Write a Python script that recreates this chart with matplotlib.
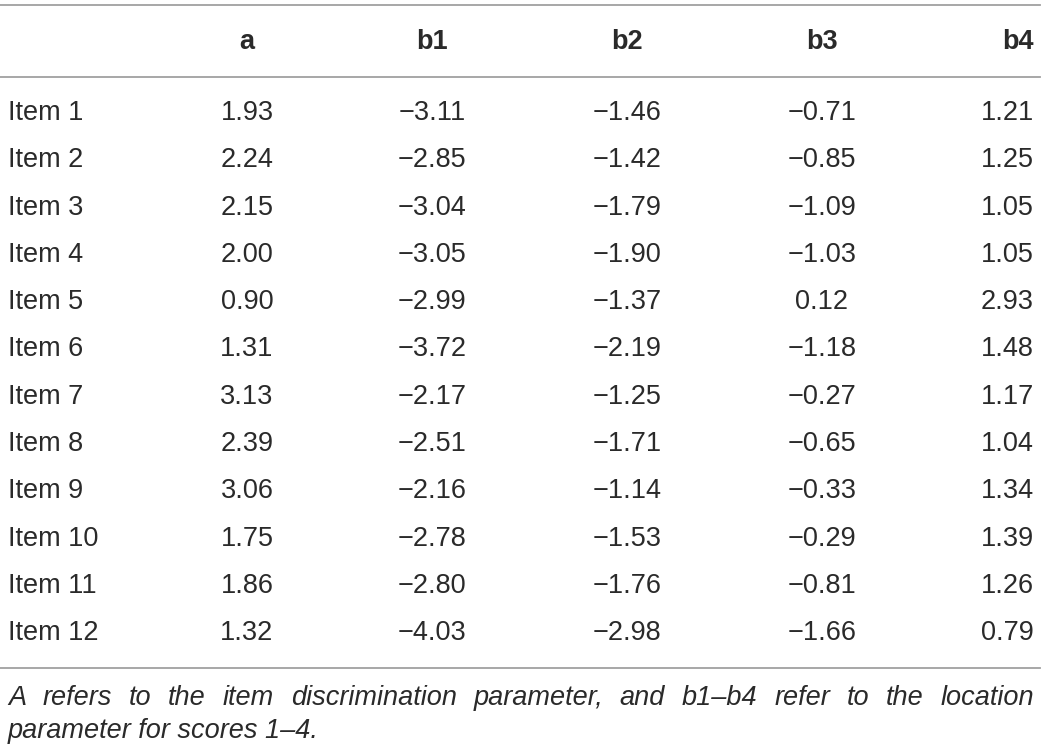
import matplotlib
matplotlib.use("Agg")
import matplotlib.pyplot as plt

columns = ["a", "b1", "b2", "b3", "b4"]
items = [f"Item {i}" for i in range(1, 13)]
a = ["1.93", "2.24", "2.15", "2.00", "0.90", "1.31", "3.13", "2.39", "3.06", "1.75", "1.86", "1.32"]
b1 = ["−3.11", "−2.85", "−3.04", "−3.05", "−2.99", "−3.72", "−2.17", "−2.51", "−2.16", "−2.78", "−2.80", "−4.03"]
b2 = ["−1.46", "−1.42", "−1.79", "−1.90", "−1.37", "−2.19", "−1.25", "−1.71", "−1.14", "−1.53", "−1.76", "−2.98"]
b3 = ["−0.71", "−0.85", "−1.09", "−1.03", "0.12", "−1.18", "−0.27", "−0.65", "−0.33", "−0.29", "−0.81", "−1.66"]
b4 = ["1.21", "1.25", "1.05", "1.05", "2.93", "1.48", "1.17", "1.04", "1.34", "1.39", "1.26", "0.79"]
footnote = ("A refers to the item discrimination parameter, and b1–b4 refer to the location "
            "parameter for scores 1–4.")

W, H = 1042, 754
plt.rcParams["font.family"] = ["Liberation Sans", "DejaVu Sans"]
fig = plt.figure(figsize=(W / 100, H / 100), dpi=100)
ax = fig.add_axes([0, 0, 1, 1])
ax.set_xlim(0, W)
ax.set_ylim(H, 0)
ax.axis("off")

txt = "#2a2a2a"
rule = "#a0a0a0"
fs = 19.5

# column anchors: (x, alignment)
col_pos = [(247, "center"), (432, "center"), (627, "center"), (822, "center"), (1034, "right")]
row0, step = 113, 47.3

for y in (5, 77, 668):
    ax.plot([0, W - 2], [y, y], color=rule, lw=1.3)

for (x, ha), name in zip(col_pos, columns):
    ax.text(x, 42, name, ha=ha, va="center", fontsize=fs, fontweight="bold", color=txt)

values = [a, b1, b2, b3, b4]
for i, label in enumerate(items):
    y = row0 + i * step
    ax.text(8, y, label, ha="left", va="center", fontsize=fs, color=txt)
    for (x, ha), col in zip(col_pos, values):
        ax.text(x, y, col[i], ha=ha, va="center", fontsize=fs, color=txt)

# justified footnote, first line stretched to full width
words = footnote.split(" ")
line1, line2 = words[:13], words[13:]
fig.canvas.draw()
r = fig.canvas.get_renderer()


def width(w):
    t = ax.text(0, 0, w, fontsize=fs, style="italic")
    bb = t.get_window_extent(renderer=r)
    t.remove()
    return bb.width


left, right = 8, 1034
widths = [width(w) for w in line1]
gap = (right - left - sum(widths)) / (len(line1) - 1)
x = left
for w, wd in zip(line1, widths):
    ax.text(x, 698, w, ha="left", va="center", fontsize=fs, style="italic", color=txt)
    x += wd + gap
ax.text(left, 731, " ".join(line2), ha="left", va="center", fontsize=fs, style="italic", color=txt)

fig.savefig("out.png", dpi=100, facecolor="white")
